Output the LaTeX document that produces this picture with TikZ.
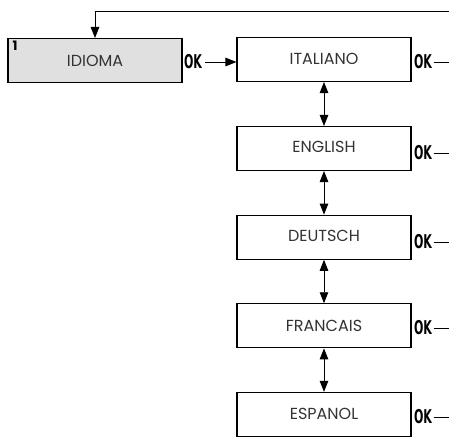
\documentclass[tikz,border=0pt]{standalone}
\usepackage{fontspec}
\setmainfont{Poppins}
\newfontfamily\okfont{DejaVu Sans}[FakeStretch=0.58]
\usetikzlibrary{arrows.meta}
\definecolor{boxgray}{RGB}{224,224,224}
\tikzset{
  x=1pt,y=1pt,
  menubox/.style={draw=black, line width=1.1pt, minimum width=174pt, minimum height=44pt, inner sep=0pt, font=\fontsize{16}{18}\selectfont, text=black!80},
  oklabel/.style={inner sep=0pt, font=\okfont\bfseries\fontsize{19}{19}\selectfont},
  conn/.style={line width=0.9pt},
  tip/.style={-{Triangle[width=8.5pt,length=11pt]}},
  dtip/.style={{Triangle[width=8.5pt,length=11pt]}-{Triangle[width=8.5pt,length=11pt]}}
}
\begin{document}
\begin{tikzpicture}
\useasboundingbox (0,0) rectangle (449,437);
% boxes (y = 437 - pixel y)
\node[menubox, fill=boxgray] (idioma) at (95,376.5) {IDIOMA};
\node[anchor=north west, inner sep=0pt, font=\fontsize{13}{14}\selectfont\bfseries] (num) at ([shift={(5pt,-3pt)}]idioma.north west) {1};
\node[menubox] (it) at (324,377.5) {\raisebox{1.5pt}{ITALIANO}};
\node[menubox] (en) at (324,288.5) {\raisebox{3pt}{ENGLISH}};
\node[menubox] (de) at (324,199.8) {\raisebox{2pt}{DEUTSCH}};
\node[menubox] (fr) at (324,111.2) {FRANCAIS};
\node[menubox] (es) at (324,22.6) {\raisebox{1pt}{ESPANOL}};
% OK labels
\node[oklabel] (ok0) at (193,375) {OK};
\node[oklabel] (ok1) at (423,375) {OK};
\node[oklabel] (ok2) at (423,284) {OK};
\node[oklabel] (ok3) at (423,195) {OK};
\node[oklabel] (ok4) at (423,109) {OK};
\node[oklabel] (ok5) at (423,20) {OK};
\foreach \i in {1,...,5}{
  \coordinate (e\i) at (449, 0 |- ok\i);
  \draw[conn] ([xshift=1.5pt]ok\i.east) -- (e\i);
}
\draw[conn, tip] ([xshift=3pt]ok0.east) -- (it.west |- ok0);
% feedback line
\coordinate (fb) at (449,426);
\draw[conn, tip] (fb) -| (idioma.north);
% double arrows
\draw[conn, dtip] (it.south) -- (en.north);
\draw[conn, dtip] (en.south) -- (de.north);
\draw[conn, dtip] (de.south) -- (fr.north);
\draw[conn, dtip] (fr.south) -- (es.north);
\end{tikzpicture}
\end{document}
